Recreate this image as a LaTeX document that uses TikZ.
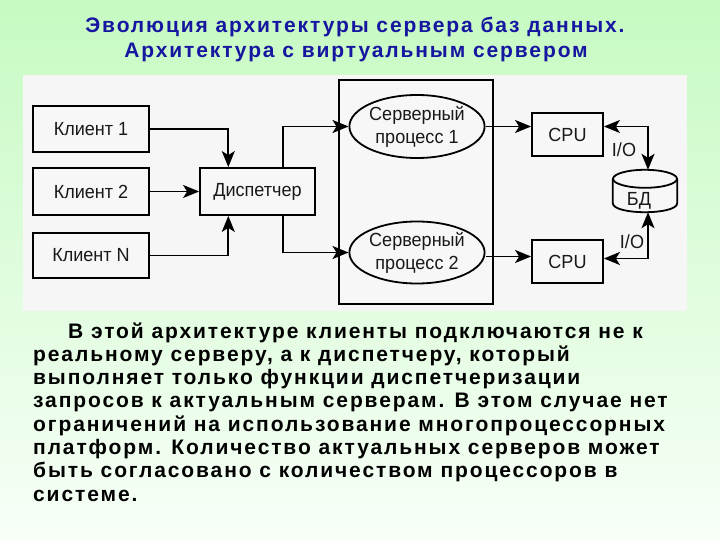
\documentclass[tikz,border=0pt]{standalone}
\usepackage{fontspec}
\setmainfont{Liberation Sans}
\newfontfamily\titlefont[LetterSpace=9]{Liberation Sans}
\newfontfamily\bodyfont[LetterSpace=9]{Liberation Sans}
\newfontfamily\diagfont[FakeStretch=0.95]{Liberation Sans}
\usetikzlibrary{arrows.meta,calc,shapes.geometric}
\definecolor{titleblue}{RGB}{22,22,160}
\definecolor{bgtop}{RGB}{198,250,194}
\definecolor{bgbot}{RGB}{248,255,248}
\definecolor{panelgray}{RGB}{246,246,246}
\definecolor{ink}{RGB}{25,25,25}
\tikzset{
  boxnode/.style={draw=black, line width=1.8pt, fill=white!97!black, inner sep=0pt, text=ink,
    font=\diagfont\fontsize{19}{23}\selectfont},
  ellnode/.style={boxnode, ellipse, align=center},
  arr/.style={line width=1.8pt, -{Stealth[length=16pt,width=13pt,inset=4pt]}},
  dbl/.style={line width=1.8pt, {Stealth[length=16pt,width=13pt,inset=4pt]}-{Stealth[length=16pt,width=13pt,inset=4pt]}},
  titletext/.style={text=titleblue, font=\titlefont\bfseries\fontsize{21}{25}\selectfont, inner sep=0pt, anchor=base},
  bodytext/.style={text=black, font=\bodyfont\bfseries\fontsize{21}{23}\selectfont, inner sep=0pt, anchor=base west},
  lbl/.style={text=ink, font=\diagfont\fontsize{19}{22}\selectfont, inner sep=0pt}
}
\begin{document}
\begin{tikzpicture}[x=1pt,y=-1pt]
\useasboundingbox (0,0) rectangle (720,540);
\shade[top color=bgtop, bottom color=bgbot] (0,0) rectangle (720,540);
% title
\node[titletext] (t1) at (355,33) {Эволюция архитектуры сервера баз данных.};
\node[titletext] (t2) at (356,58) {Архитектура с виртуальным сервером};
% panel
\fill[panelgray] (23,75) rectangle (687,311);
% clients
\node[boxnode, minimum width=116, minimum height=46] (k1) at (91,129) {Клиент 1};
\node[boxnode, minimum width=116, minimum height=47] (k2) at (91,191.5) {Клиент 2};
\node[boxnode, minimum width=116, minimum height=45] (kn) at (91,255.5) {Клиент N};
\node[boxnode, minimum width=115, minimum height=47] (d) at (257.5,191.5) {Диспетчер};
% server box
\node[boxnode, minimum width=154, minimum height=224] (srv) at (416,192) {};
\node[ellnode, minimum width=130, minimum height=63] (e1) at (417,126.5) {Серверный\\процесс 1};
\node[ellnode, minimum width=130, minimum height=62] (e2) at (417,252.5) {Серверный\\процесс 2};
% CPUs
\node[boxnode, minimum width=71, minimum height=43] (c1) at (567.5,134.5) {CPU};
\node[boxnode, minimum width=71, minimum height=43] (c2) at (567.5,261.5) {CPU};
% database cylinder
\node[minimum width=64, minimum height=42, inner sep=0pt] (bd) at (645,191) {};
\filldraw[fill=white!97!black, draw=black, line width=1.8pt]
  ($(bd.north west)+(0,9)$) -- ($(bd.south west)+(0,-9)$)
  .. controls ($(bd.south west)+(0,3)$) and ($(bd.south east)+(0,3)$) .. ($(bd.south east)+(0,-9)$)
  -- ($(bd.north east)+(0,9)$);
\draw[line width=1.8pt] ($(bd.north)+(0,9)$) ellipse [x radius=32, y radius=9];
\node[lbl] (bdl) at (639,201) {БД};
% connectors
\draw[arr] (k1.east) -| ($(d.north west)!0.25!(d.north east)$);
\draw[arr] (k2.east) -- (d.west);
\draw[arr] (kn.east) -| ($(d.south west)!0.25!(d.south east)$);
\draw[arr] ($(d.north west)!0.72!(d.north east)$) |- (e1.west);
\draw[arr] ($(d.south west)!0.72!(d.south east)$) |- (e2.west);
\draw[arr] (e1.east) -- (e1.east -| c1.west);
\draw[arr] ([yshift=-4pt]e2.east) -- ([yshift=-4pt]e2.east -| c2.west);
\draw[dbl] (c1.east |- e1.east) -| ([xshift=3pt]bd.north);
\draw[dbl] ([yshift=3pt]c2.east) -| ([xshift=3pt]bd.south);
\node[lbl] (io1) at (624,150) {I/O};
\node[lbl] (io2) at (632,242) {I/O};
% paragraph
\node[bodytext] (p1) at (68,338) {В этой архитектуре клиенты подключаются не к};
\node[bodytext] (p2) at (33,361.3) {реальному серверу, а к диспетчеру, который};
\node[bodytext] (p3) at (33,384.6) {выполняет только функции диспетчеризации};
\node[bodytext] (p4) at (33,407.9) {запросов к актуальным серверам. В этом случае нет};
\node[bodytext] (p5) at (33,431.2) {ограничений на использование многопроцессорных};
\node[bodytext] (p6) at (33,454.5) {платформ. Количество актуальных серверов может};
\node[bodytext] (p7) at (33,477.8) {быть согласовано с количеством процессоров в};
\node[bodytext] (p8) at (33,501.1) {системе.};
\end{tikzpicture}
\end{document}
